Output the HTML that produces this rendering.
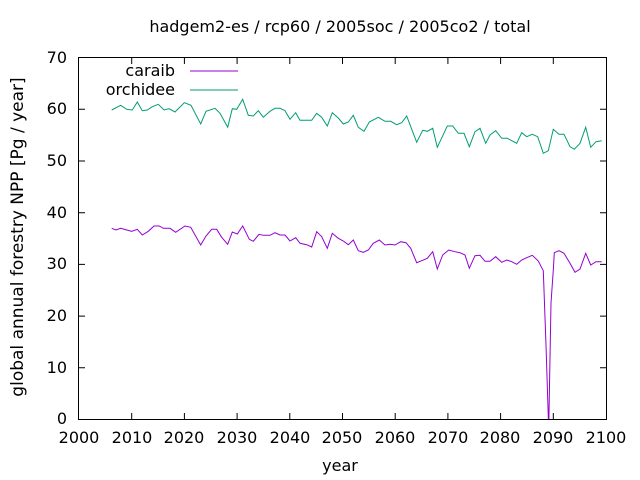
<!DOCTYPE html>
<html><head><meta charset="utf-8"><style>body{margin:0;background:#fff}svg{display:block}text{font-family:"DejaVu Sans",sans-serif;font-size:16px;fill:#000}</style></head><body>
<svg width="640" height="480" viewBox="0 0 640 480">
<text x="340" y="32" text-anchor="middle">hadgem2-es / rcp60 / 2005soc / 2005co2 / total</text>
<g stroke="#000" stroke-width="1" fill="none">
<rect x="78.5" y="57.5" width="528" height="362"/>
<path d="M79 367.8h6M79 316.1h6M79 264.4h6M79 212.7h6M79 161h6M79 109.3h6M606 367.8h-6M606 316.1h-6M606 264.4h-6M606 212.7h-6M606 161h-6M606 109.3h-6
M131.7 419v-6M184.4 419v-6M237.1 419v-6M289.8 419v-6M342.5 419v-6M395.2 419v-6M447.9 419v-6M500.6 419v-6M553.3 419v-6
M131.7 58v6M184.4 58v6M237.1 58v6M289.8 58v6M342.5 58v6M395.2 58v6M447.9 58v6M500.6 58v6M553.3 58v6"/>
</g>
<g text-anchor="end">
<text x="67" y="424">0</text><text x="67" y="373">10</text><text x="67" y="321">20</text><text x="67" y="269">30</text><text x="67" y="218">40</text><text x="67" y="166">50</text><text x="67" y="114">60</text><text x="67" y="63">70</text>
</g>
<g text-anchor="middle">
<text x="79" y="443">2000</text><text x="132" y="443">2010</text><text x="184" y="443">2020</text><text x="237" y="443">2030</text><text x="290" y="443">2040</text><text x="342" y="443">2050</text><text x="395" y="443">2060</text><text x="448" y="443">2070</text><text x="500" y="443">2080</text><text x="553" y="443">2090</text><text x="606" y="443">2100</text>
<text x="340" y="471">year</text>
<text transform="translate(23,237) rotate(-90)" style="font-size:17px">global annual forestry NPP [Pg / year]</text>
</g>
<text x="175" y="76" text-anchor="end">caraib</text>
<text x="175" y="95" text-anchor="end">orchidee</text>
<path d="M190 71h48" stroke="#9400d3"/>
<path d="M190 90h48" stroke="#009e73"/>
<clipPath id="c"><rect x="79" y="58" width="527" height="361"/></clipPath>
<g clip-path="url(#c)" fill="none" stroke-width="1">
<polyline stroke="#009e73" points="111.7,110 120.7,105.3 126.7,109.3 132.3,110 137.3,102 142.3,110.7 147.3,110 152.3,106.7 158.3,104.3 164,110 169,108.7 175,112 184.3,102.7 191,105.3 200.7,124 206,111.3 215,108.3 220,113.3 227.7,127.3 232.3,108.7 236.7,109.3 242.7,99.3 248.3,115.3 253.3,116 258.3,110.7 263.3,117.3 270,111.3 275,108.3 280,108.3 285,110.7 290,119.3 295.7,112.7 300,120.3 311.7,120.3 316.7,113.3 321.7,117.3 327.3,126 332.3,112.7 338.3,118 343.3,124 348.3,122 353.3,115.3 358.3,127.3 364,131.3 369.3,122 378.3,117.3 385,121.3 390.7,121.3 396.7,124.7 401.7,122.7 406.7,116 416.7,142.3 422.7,130.3 427.3,131.3 432.7,128.3 437.3,147.3 447.3,126 452.7,126 458.3,133.3 464,133.3 469.3,146.7 475,131.7 480,128.3 485.7,143.3 490,135 495.7,130.7 501.7,138.3 507.3,138.3 516.7,143.3 521.7,132.7 526.7,136.7 532.3,134.3 537.7,136.7 543.3,153.3 548.3,150.7 553.3,129.3 559,134.3 564,134.3 570,146.7 574.3,149.3 580,143.3 585.7,127.3 590.7,147.3 596,141.7 601.7,140.7"/>
<polyline stroke="#9400d3" points="111.7,228.3 116,230 120.7,228.3 126.7,230 131.7,231.3 137.3,229.3 142.3,235 148.3,231.3 154,226 159.3,226 163.3,228.3 170,228.3 175.7,232.3 185,226 190.7,227.3 200.7,245 206,236 211.7,229.3 216.7,229.3 221.7,237.3 227.7,244.3 232.3,232 237.3,234 242.7,226 249.3,239.3 253.3,241.3 259,234.3 263.3,235.3 270,235.3 275,232.7 280,235 285,235 290,241 295.7,237.7 300,243.3 306.7,244.7 311.7,247 316.7,231.7 321.7,236.7 327.3,248.3 332.3,233.3 338.3,238.3 343.3,241 348.3,244.7 353.3,240 358.3,250.7 363.3,252.3 368.3,250 373.3,243.3 379.3,240 385,245 390,244.3 395,245 400.7,241.7 406,242.7 410.7,248.3 416.7,262.7 421.7,260.7 427.3,258.3 432.7,251.7 437.3,269 442.7,255 448.7,250 455,251.7 460,252.7 465,255 469.3,268.3 475,255.7 480,255.3 485,261.3 490,261.3 495.7,256.7 501.7,262.3 506.7,260 511.7,261.7 516.7,264.3 521.7,260 526.7,257.7 532.3,255.3 538.3,261 543.3,270.7 546,345 548.7,430 551,303 553.3,270 554.3,252.7 559,250.7 564,253.3 570,263.3 575,272.3 580,269 585.7,253.3 590.7,265 596,261.7 601.7,261.7"/>
</g>
</svg>
</body></html>
